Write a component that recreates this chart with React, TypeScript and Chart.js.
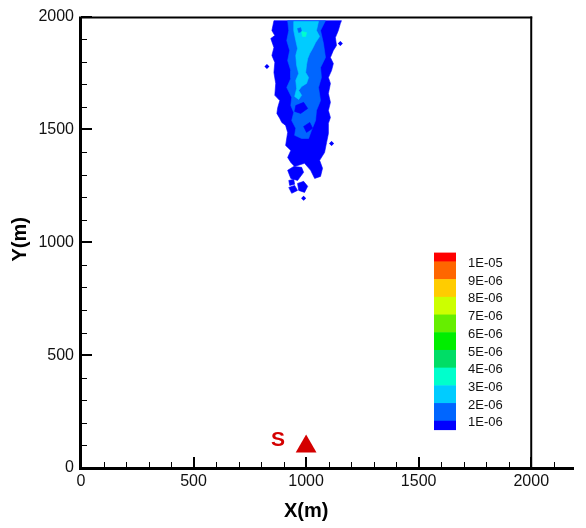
import React, { useEffect, useRef } from "react";
import { Chart, registerables } from "chart.js";

Chart.register(...registerables);

type Pt = [number, number];

// ---- axes ----
const xMin = 0;
const xMax = 2190;
const yMin = 0;
const yMax = 2000;
const boxRightValue = 2000;
const xMajorTicks = [0, 500, 1000, 1500, 2000];
const xMinorTicks = [100, 200, 300, 400, 600, 700, 800, 900, 1100, 1200, 1300, 1400, 1600, 1700, 1800, 1900, 2100];
const yMajorTicks = [0, 500, 1000, 1500, 2000];
const yMinorTicks = [100, 200, 300, 400, 600, 700, 800, 900, 1100, 1200, 1300, 1400, 1600, 1700, 1800, 1900];
const xTitle = "X(m)";
const yTitle = "Y(m)";

// ---- legend ----
const legendLabels = ["1E-05", "9E-06", "8E-06", "7E-06", "6E-06", "5E-06", "4E-06", "3E-06", "2E-06", "1E-06"];
const legendColors = ["#FF0000", "#FF6600", "#FFCC00", "#CCFF00", "#66EE00", "#00EE00", "#00DD66", "#00FFCC", "#00CCFF", "#0066FF", "#0000FF"];

// ---- contour colours (levels 1E-06 .. 4E-06) ----
const level1Color = "#0000FF";
const level2Color = "#0066FF";
const level3Color = "#00CCFF";
const level4Color = "#00FFCC";

// ---- contour polygons (x, y in metres) ----
const level1Body: Pt[] = [
  [857, 1982], [848, 1938], [861, 1916], [843, 1903], [857, 1863], [848, 1828], [861, 1797],
  [857, 1752], [865, 1704], [861, 1651], [883, 1628], [874, 1597], [870, 1571], [883, 1549],
  [892, 1531], [909, 1518], [918, 1487], [909, 1429], [932, 1407], [918, 1376], [932, 1354],
  [949, 1336], [993, 1350], [1020, 1319], [1038, 1283], [1064, 1292], [1073, 1328], [1060, 1363],
  [1082, 1398], [1091, 1443], [1099, 1482], [1099, 1527], [1108, 1553], [1099, 1584], [1108, 1620],
  [1099, 1659], [1108, 1704], [1099, 1730], [1113, 1761], [1121, 1792], [1108, 1819], [1121, 1850],
  [1135, 1872], [1130, 1907], [1143, 1938], [1152, 1969], [1157, 1982],
];
const level1IslandA: Pt[] = [[918, 1319], [945, 1336], [980, 1332], [989, 1310], [962, 1274], [932, 1283]];
const level1IslandB: Pt[] = [[923, 1274], [945, 1279], [949, 1257], [927, 1252]];
const level1IslandC: Pt[] = [[962, 1261], [989, 1270], [1007, 1248], [993, 1221], [967, 1230]];
const level1IslandD: Pt[] = [[923, 1243], [949, 1252], [962, 1230], [936, 1217]];
const level1Dots: Pt[] = [[826, 1779], [1152, 1881], [1113, 1438], [989, 1195]];

const level2Body: Pt[] = [
  [918, 1982], [923, 1938], [914, 1894], [927, 1850], [918, 1805], [932, 1761], [932, 1726],
  [914, 1686], [936, 1642], [932, 1606], [945, 1575], [936, 1540], [954, 1505], [949, 1474],
  [980, 1460], [1011, 1460], [1024, 1496], [1042, 1540], [1046, 1584], [1064, 1628], [1055, 1686],
  [1068, 1730], [1064, 1774], [1086, 1819], [1077, 1881], [1064, 1938], [1086, 1982],
];
const level2HoleA: Pt[] = [[954, 1606], [989, 1620], [1007, 1593], [976, 1571], [949, 1580]];
const level2HoleB: Pt[] = [[989, 1513], [1016, 1531], [1029, 1505], [1002, 1487]];

const level3Body: Pt[] = [
  [945, 1978], [1055, 1978], [1046, 1938], [1060, 1912], [1042, 1885], [1029, 1859], [1016, 1836],
  [1007, 1814], [1002, 1788], [998, 1752], [1011, 1730], [1002, 1704], [980, 1690], [967, 1673],
  [980, 1651], [967, 1633], [949, 1646], [958, 1681], [954, 1717], [967, 1748], [958, 1783],
  [954, 1828], [962, 1859], [954, 1894], [945, 1938],
];
const level3HoleA: Pt[] = [[962, 1947], [976, 1951], [980, 1934], [967, 1929]];
const level4Spot: Pt[] = [[980, 1934], [1002, 1929], [998, 1912], [984, 1912]];

// ---- source ----
const sourcePoint: Pt = [1000, 95];
const sourceLabelPoint: Pt = [875, 124];
const sourceLabel = "S";
const sourceColor = "#D40000";

const poly = (pts: Pt[], color: string, order: number) => ({
  data: [...pts, pts[0]].map(([x, y]) => ({ x, y })),
  showLine: true,
  fill: "shape",
  backgroundColor: color,
  borderColor: color,
  borderWidth: 0.6,
  pointRadius: 0,
  tension: 0,
  order,
});

const FONT = "'Liberation Sans', Arial, sans-serif";

const decoPlugin = {
  id: "deco",
  afterDraw(chart: any) {
    const { ctx, chartArea } = chart;
    const x = chart.scales.x;
    const y = chart.scales.y;
    const bottom = chartArea.bottom;
    const left = chartArea.left;
    const top = y.getPixelForValue(yMax);
    const xr = x.getPixelForValue(boxRightValue);
    const line = (x1: number, y1: number, x2: number, y2: number) => {
      ctx.beginPath();
      ctx.moveTo(x1, y1);
      ctx.lineTo(x2, y2);
      ctx.stroke();
    };
    ctx.save();
    ctx.strokeStyle = "#000";
    // minor ticks
    ctx.lineWidth = 1;
    xMinorTicks.forEach((v) => {
      const p = Math.round(x.getPixelForValue(v)) + 0.5;
      line(p, bottom, p, bottom - 6);
    });
    yMinorTicks.forEach((v) => {
      const p = Math.round(y.getPixelForValue(v)) + 0.5;
      line(left, p, left + 6, p);
    });
    // major ticks
    ctx.lineWidth = 2;
    xMajorTicks.forEach((v) => {
      const p = Math.round(x.getPixelForValue(v));
      line(p, bottom, p, bottom - 11);
    });
    yMajorTicks.forEach((v) => {
      const p = Math.round(y.getPixelForValue(v));
      line(left, p, left + 11, p);
    });
    // box top & right
    ctx.lineWidth = 2;
    line(left, top + 1, xr + 1, top + 1);
    line(xr, top, xr, bottom);
    // axes
    ctx.lineWidth = 3;
    line(left - 0.5, top, left - 0.5, bottom + 1.5);
    line(left - 2, bottom + 0.5, chartArea.right, bottom + 0.5);

    // titles
    ctx.fillStyle = "#000";
    ctx.font = `bold 20px ${FONT}`;
    ctx.textAlign = "center";
    ctx.textBaseline = "middle";
    ctx.fillText(xTitle, x.getPixelForValue((xMajorTicks[0] + boxRightValue) / 2), bottom + 43);
    ctx.save();
    ctx.translate(20, y.getPixelForValue((yMin + yMax) / 2) - 3);
    ctx.rotate(-Math.PI / 2);
    ctx.fillText(yTitle, 0, 0);
    ctx.restore();

    // source label
    ctx.fillStyle = sourceColor;
    ctx.font = `bold 21px ${FONT}`;
    ctx.fillText(sourceLabel, x.getPixelForValue(sourceLabelPoint[0]), y.getPixelForValue(sourceLabelPoint[1]));

    // legend
    const lx = left + 353;
    const ly = top + 236;
    const unit = 17.7;
    const bw = 22;
    let yy = ly;
    legendColors.forEach((c, i) => {
      const h = i === 0 || i === legendColors.length - 1 ? unit / 2 : unit;
      ctx.fillStyle = c;
      ctx.fillRect(lx, yy, bw, h + 0.5);
      yy += h;
    });
    ctx.fillStyle = "#111";
    ctx.font = `13px ${FONT}`;
    ctx.textAlign = "left";
    legendLabels.forEach((t, i) => {
      ctx.fillText(t, lx + 34, ly + unit / 2 + i * unit + 2);
    });
    ctx.restore();
  },
};

export default function App() {
  const ref = useRef<HTMLCanvasElement | null>(null);
  useEffect(() => {
    if (!ref.current) return;
    const datasets: any[] = [
      {
        data: [{ x: sourcePoint[0], y: sourcePoint[1] }],
        showLine: false,
        pointStyle: "triangle",
        pointRadius: 12,
        backgroundColor: sourceColor,
        borderWidth: 0,
        order: 1,
      },
      poly(level4Spot, level4Color, 3),
      poly(level3HoleA, level2Color, 4),
      poly(level3Body, level3Color, 5),
      poly(level2HoleA, level1Color, 6),
      poly(level2HoleB, level1Color, 6),
      poly(level2Body, level2Color, 7),
      poly(level1Body, level1Color, 9),
      poly(level1IslandA, level1Color, 9),
      poly(level1IslandB, level1Color, 9),
      poly(level1IslandC, level1Color, 9),
      poly(level1IslandD, level1Color, 9),
      {
        data: level1Dots.map(([x, y]) => ({ x, y })),
        showLine: false,
        pointStyle: "rectRot",
        pointRadius: 2.5,
        backgroundColor: level1Color,
        borderWidth: 0,
        order: 8,
      },
    ];
    const chart = new Chart(ref.current, {
      type: "line",
      data: { datasets },
      options: {
        animation: false,
        responsive: false,
        events: [],
        layout: { padding: { left: 0, top: 16, right: 9, bottom: 0 } },
        plugins: { legend: { display: false }, tooltip: { enabled: false } },
        scales: {
          x: {
            type: "linear",
            min: xMin,
            max: xMax,
            grid: { display: false, drawTicks: false },
            border: { display: false },
            afterBuildTicks: (s: any) => {
              s.ticks = xMajorTicks.map((v) => ({ value: v }));
            },
            afterFit: (s: any) => {
              s.height = 60;
            },
            ticks: {
              padding: 4,
              color: "#111",
              font: { family: FONT, size: 16 },
              maxRotation: 0,
              callback: (v: any) => String(v),
            },
          },
          y: {
            type: "linear",
            min: yMin,
            max: yMax,
            grid: { display: false, drawTicks: false },
            border: { display: false },
            afterBuildTicks: (s: any) => {
              s.ticks = yMajorTicks.map((v) => ({ value: v }));
            },
            afterFit: (s: any) => {
              s.width = 81;
            },
            ticks: {
              padding: 7,
              color: "#111",
              font: { family: FONT, size: 16 },
              callback: (v: any) => String(v),
            },
          },
        },
      } as any,
      plugins: [decoPlugin],
    });
    return () => chart.destroy();
  }, []);
  return (
    <div style={{ position: "fixed", left: 0, top: 0, width: 586, height: 528, background: "#fff" }}>
      <canvas ref={ref} width={586} height={528} style={{ display: "block" }} />
    </div>
  );
}
